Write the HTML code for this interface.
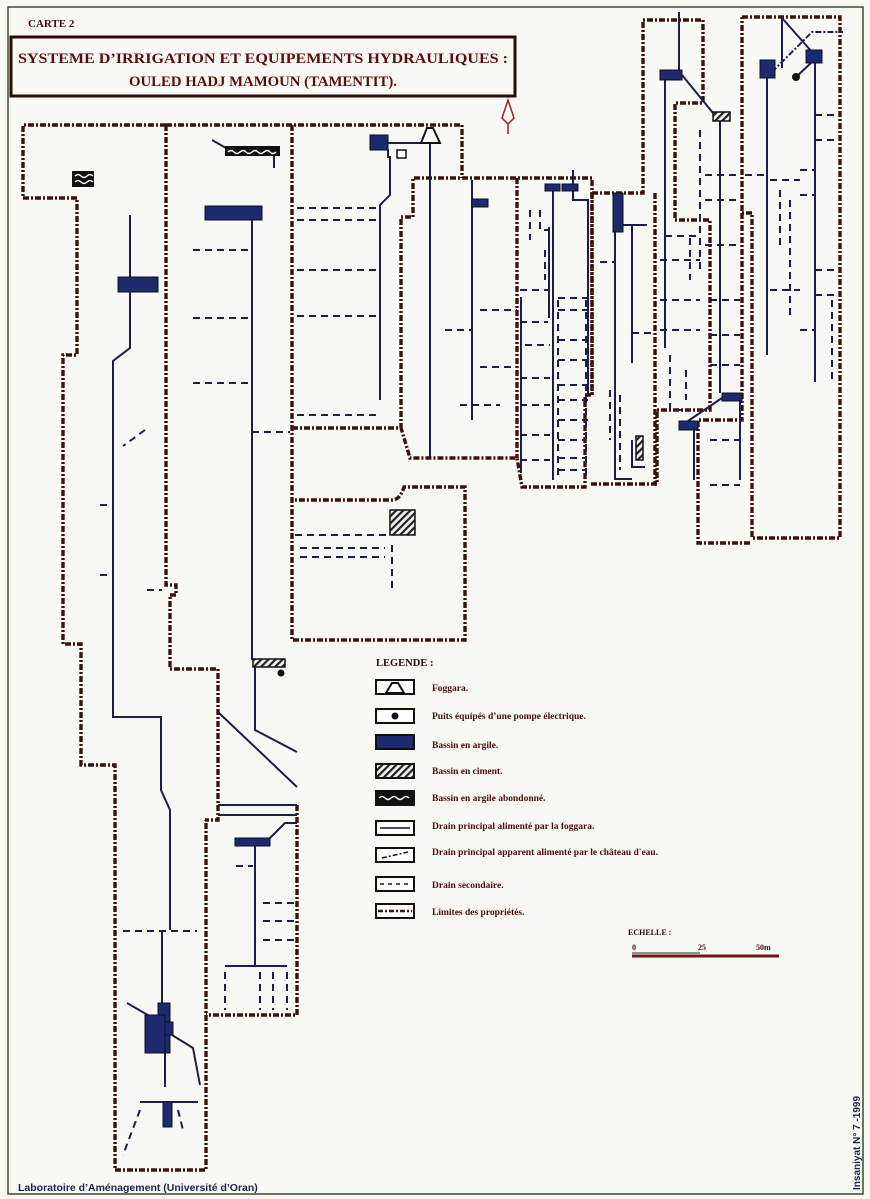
<!DOCTYPE html>
<html><head><meta charset="utf-8">
<style>
html,body{margin:0;padding:0;background:#f8f8f5;}
body{width:870px;height:1199px;overflow:hidden;position:relative;font-family:"Liberation Serif",serif;}
svg{position:absolute;left:0;top:0;}
</style></head>
<body>
<svg width="870" height="1199" viewBox="0 0 870 1199" xmlns="http://www.w3.org/2000/svg">
<defs>
<pattern id="hat" width="5" height="5" patternUnits="userSpaceOnUse" patternTransform="rotate(45)">
<rect width="5" height="5" fill="#f0f0f0"/><rect width="2.2" height="5" fill="#222"/></pattern>
</defs>
<!-- page border -->
<rect x="8" y="7" width="855" height="1187" fill="none" stroke="#3a4a32" stroke-width="1.5"/>
<text x="28" y="27" font-family="Liberation Serif" font-weight="bold" font-size="11" fill="#3a0e0a">CARTE 2</text>
<rect x="11" y="37" width="504" height="59" fill="none" stroke="#2a0c08" stroke-width="3"/>
<text x="18" y="63" textLength="490" lengthAdjust="spacingAndGlyphs" font-family="Liberation Serif" font-weight="bold" font-size="15" fill="#5a0e0a">SYSTEME D’IRRIGATION ET EQUIPEMENTS HYDRAULIQUES :</text>
<text x="129" y="86" textLength="268" lengthAdjust="spacingAndGlyphs" font-family="Liberation Serif" font-weight="bold" font-size="15" fill="#5a0e0a">OULED HADJ MAMOUN (TAMENTIT).</text>
<!-- north arrow -->
<path d="M508,100 L514,118 L508,124 L502,118 Z" fill="none" stroke="#a0201a" stroke-width="1.5"/>
<line x1="508" y1="124" x2="508" y2="134" stroke="#a0201a" stroke-width="1.5"/>

<!-- property limits -->
<g fill="none" stroke="#3a140c" stroke-width="3.4" stroke-dasharray="6 2 2 2" stroke-linejoin="miter">
<path d="M166,125 H23 V198 H77 V355 H63 V644 H81 V765 H115 V1170 H206 V820"/>
<path d="M166,125 V585 H176 V595 H170 V669 H218 V820 H205"/>
<path d="M166,125 H462 V178"/>
<path d="M292,125 V640 H465 V487 H404 Q400,500 392,500 H292"/>
<path d="M292,428 H401 V217 H413 V178 H592 V395 H585 V487 H522 L517,458 H410 L401,428"/>
<path d="M517,178 V458"/>
<path d="M297,805 V1015 H206"/>
<path d="M592,193 H643 V20 H703 V103 H675 V220 H710 V410 H657 V484 H590"/>
<path d="M592,193 V395"/>
<path d="M655,193 V484"/>
<path d="M742,17 H840 V538 H752 V213 H742 V17"/>
<path d="M742,213 V420 H698 V543 H752"/>
</g>
<!-- main drains -->
<g fill="none" stroke="#1c1f48" stroke-width="2">
<path d="M130,215 V348 L113,361 V717 H161 V790 L170,810 V930"/>
<path d="M162,931 V1005"/>
<path d="M165,1030 V1087"/>
<path d="M127,1003 L165,1025"/>
<path d="M172,1035 L193,1048 L200,1085"/>
<path d="M140,1102 H198"/>
<path d="M252,215 V660"/>
<path d="M255,667 V730 L297,752"/>
<path d="M218,712 L297,787"/>
<path d="M218,805 H297 M218,815 H297"/>
<path d="M270,838 L285,823 H297"/>
<path d="M255,846 V966 M225,966 H287"/>
<path d="M212,140 L226,148 M274,155 V168"/>
<path d="M387,143 H430 M388,149 V157 H390 V195 L380,205 V400"/>
<path d="M430,128 V457"/>
<path d="M472,180 V420"/>
<path d="M553,190 V480 M573,170 V200 H588 V395 M549,227 V318 M521,297 V473"/>
<path d="M615,232 V479 H632 M632,225 V363 M622,225 H647"/>
<path d="M679,12 V70 M665,80 V348 M682,75 L713,113 M720,120 V393 M740,400 V480 M694,430 V480 M688,421 L722,398"/>
<path d="M767,78 V355 M815,62 V382 M782,18 L812,52 M782,18 V68 M796,77 L812,62"/>
<path d="M632,440 V467 H645"/>
</g>
<path d="M772,72 L812,32 H843" fill="none" stroke="#1c1f48" stroke-width="2" stroke-dasharray="6 2 2 2"/>
<!-- secondary drains -->
<g fill="none" stroke="#1c1f48" stroke-width="2" stroke-dasharray="7 5">
<path d="M193,250 H252 M193,318 H252 M193,383 H252 M252,432 H290"/>
<path d="M297,208 H380 M297,220 H380 M297,270 H380 M297,316 H380 M297,415 H380"/>
<path d="M445,330 H472 M480,310 H517 M480,367 H517 M460,405 H500 M295,535 H390 M300,548 H385 M300,557 H385 M392,545 V590"/>
<path d="M520,290 H548 M520,322 H548 M525,345 H550 M520,378 H550 M520,405 H550 M520,435 H550 M520,460 H550"/>
<path d="M558,298 H588 M558,310 H588 M558,340 H588 M558,360 H588 M558,385 H588 M558,400 H588 M558,420 H588 M558,440 H585 M558,458 H585 M558,470 H585 M586,300 V480 M558,300 V480"/>
<path d="M530,210 V240 M540,210 V230 H548 M545,250 V280"/>
<path d="M600,262 H615 M632,333 H655 M610,390 V440 M620,395 V470"/>
<path d="M660,260 H700 M660,300 H700 M660,330 H700 M670,355 V410 H690 M686,370 V400 M665,236 H700 M690,238 V280"/>
<path d="M700,130 V270 M705,175 H740 M705,200 H740 M705,245 H740 M710,300 H740 M710,335 H740 M710,365 H740 M710,440 H740 M710,485 H740"/>
<path d="M745,175 H765 M770,180 H800 M780,190 V250 M770,290 H800 M790,200 V320 M800,170 H815 M800,195 H815 M815,115 H840 M815,140 H840 M815,270 H840 M815,295 H840 M800,330 H815 M832,300 V380"/>
<path d="M123,931 H197 M236,866 H253 M263,903 H297 M263,921 H297 M263,940 H297"/>
<path d="M225,972 V1010 M260,972 V1010 M273,972 V1010 M287,972 V1010"/>
<path d="M140,1110 L123,1155 M178,1110 L183,1130"/>
<path d="M145,430 L123,446 M147,590 H162 M100,575 H113 M100,505 H113"/>
</g>
<!-- basins (clay) -->
<g fill="#1d2a6e" stroke="#0d0f2a" stroke-width="1">
<rect x="118" y="277" width="40" height="15"/>
<rect x="205" y="206" width="57" height="14"/>
<rect x="370" y="135" width="18" height="15"/>
<rect x="472" y="199" width="16" height="8"/>
<rect x="545" y="184" width="15" height="7"/><rect x="562" y="184" width="16" height="7"/>
<rect x="613" y="193" width="10" height="39"/>
<rect x="660" y="70" width="22" height="10"/>
<rect x="760" y="60" width="15" height="18"/>
<rect x="806" y="50" width="16" height="13"/>
<rect x="722" y="393" width="20" height="8"/>
<rect x="679" y="421" width="19" height="9"/>
<rect x="235" y="838" width="35" height="8"/>
<rect x="158" y="1003" width="12" height="50"/>
<rect x="145" y="1015" width="20" height="38"/>
<rect x="165" y="1022" width="8" height="13"/>
<rect x="163" y="1102" width="9" height="25"/>
</g>
<!-- cement basins -->
<g fill="url(#hat)" stroke="#111" stroke-width="1.5">
<rect x="390" y="510" width="25" height="25"/>
<rect x="713" y="112" width="17" height="9"/>
<rect x="253" y="659" width="32" height="8"/>
<rect x="636" y="436" width="7" height="24"/>
</g>
<circle cx="281" cy="673" r="3.5" fill="#111"/>
<circle cx="796" cy="77" r="4" fill="#111"/>
<rect x="397" y="150" width="9" height="8" fill="#fff" stroke="#111" stroke-width="1.5"/>
<!-- foggara -->
<path d="M421,143 L427,128 H433 L440,143 Z" fill="#fff" stroke="#111" stroke-width="2"/>
<!-- abandoned -->
<rect x="72" y="171" width="22" height="16" fill="#111"/>
<path d="M75,176 q3,-3 6,0 t6,0 t6,0 M75,182 q3,-3 6,0 t6,0 t6,0" stroke="#fff" stroke-width="1.3" fill="none"/>
<rect x="225" y="146" width="55" height="10" fill="#111"/>
<path d="M228,152 q3,-3 6,0 t6,0 t6,0 t6,0 t6,0 t6,0 t6,0 t6,0" stroke="#fff" stroke-width="1.3" fill="none"/>

<!-- legend -->
<g font-family="Liberation Serif" font-weight="bold" fill="#4a0c08">
<text x="376" y="666" font-size="10.5" fill="#2a0a08">LEGENDE :</text>
<text x="432" y="691" font-size="9.5">Foggara.</text>
<text x="432" y="719" font-size="9.5">Puits équipés d’une pompe électrique.</text>
<text x="432" y="748" font-size="9.5">Bassin en argile.</text>
<text x="432" y="774" font-size="9.5">Bassin en ciment.</text>
<text x="432" y="801" font-size="9.5">Bassin en argile abondonné.</text>
<text x="432" y="829" font-size="9.5">Drain principal alimenté par la foggara.</text>
<text x="432" y="855" font-size="9.5">Drain principal apparent alimenté par le château d'eau.</text>
<text x="432" y="888" font-size="9.5">Drain secondaire.</text>
<text x="432" y="915" font-size="9.5">Limites des propriétés.</text>
<text x="628" y="935" font-size="8" fill="#2a0a08">ECHELLE :</text>
<text x="632" y="950" font-size="8">0</text>
<text x="698" y="950" font-size="8">25</text>
<text x="756" y="950" font-size="8">50m</text>
</g>
<g stroke="#111" stroke-width="2" fill="#fff">
<rect x="376" y="680" width="38" height="14"/>
<rect x="376" y="709" width="38" height="14"/>
<rect x="376" y="735" width="38" height="14" fill="#1d2a6e"/>
<rect x="376" y="764" width="38" height="14" fill="url(#hat)"/>
<rect x="376" y="791" width="38" height="14" fill="#111"/>
<rect x="376" y="821" width="38" height="14"/>
<rect x="376" y="848" width="38" height="14"/>
<rect x="376" y="877" width="38" height="14"/>
<rect x="376" y="904" width="38" height="14"/>
</g>
<path d="M386,693 L392,683 H398 L404,693 Z" fill="#fff" stroke="#111" stroke-width="2"/>
<circle cx="395" cy="716" r="3.5" fill="#111"/>
<path d="M379,798 q3,-3 6,0 t6,0 t6,0 t6,0 t6,0" stroke="#fff" stroke-width="1.5" fill="none"/>
<line x1="380" y1="828" x2="410" y2="828" stroke="#111" stroke-width="1.5"/>
<line x1="382" y1="858" x2="408" y2="852" stroke="#111" stroke-width="1.5" stroke-dasharray="5 2 2 2"/>
<line x1="380" y1="884" x2="410" y2="884" stroke="#111" stroke-width="1.5" stroke-dasharray="4 4"/>
<line x1="378" y1="911" x2="412" y2="911" stroke="#3d1710" stroke-width="2.5" stroke-dasharray="5 2 2 2"/>
<line x1="632" y1="956" x2="779" y2="956" stroke="#6a1a12" stroke-width="3"/>
<line x1="632" y1="953" x2="700" y2="953" stroke="#222" stroke-width="1"/>

<text x="18" y="1191" font-family="Liberation Sans" font-weight="bold" font-size="10.5" fill="#1d2448">Laboratoire  d’Aménagement  (Université  d’Oran)</text>
<text transform="translate(860,1190) rotate(-90)" font-family="Liberation Sans" font-weight="bold" font-size="10" fill="#1d2448">Insaniyat N° 7 -1999</text>
</svg>
</body></html>
